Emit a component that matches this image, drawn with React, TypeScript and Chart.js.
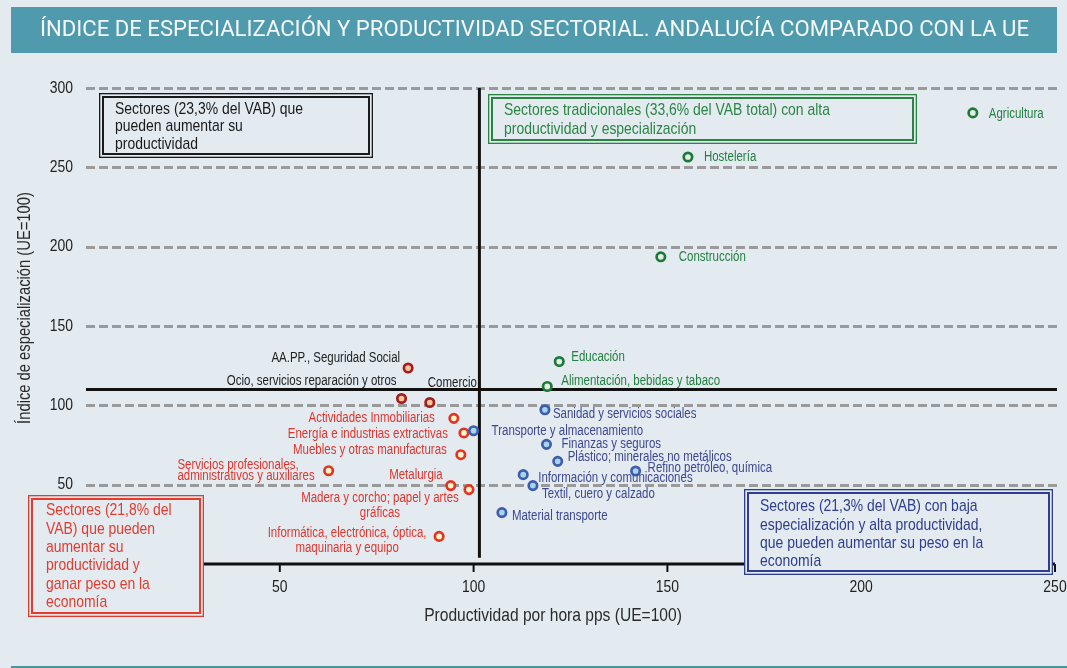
import React, { useEffect, useRef } from 'react';
import { Chart, registerables } from 'chart.js';
Chart.register(...registerables);

// ---------- DATA ----------
const sectors = [
  'Agricultura', 'Hostelería', 'Construcción', 'Educación', 'Alimentación, bebidas y tabaco',
  'Sanidad y servicios sociales', 'Transporte y almacenamiento', 'Finanzas y seguros',
  'Plástico; minerales no metálicos', 'Refino petróleo, química', 'Información y comunicaciones',
  'Textil, cuero y calzado', 'Material transporte',
  'AA.PP., Seguridad Social', 'Ocio, servicios reparación y otros', 'Comercio',
  'Actividades Inmobiliarias', 'Energía e industrias extractivas', 'Muebles y otras manufacturas',
  'Servicios profesionales,\nadministrativos y auxiliares', 'Metalurgia',
  'Madera y corcho; papel y artes\ngráficas', 'Informática, electrónica, óptica,\nmaquinaria y equipo',
];
const productivity = [
  228.8, 155.3, 148.3, 122.1, 119.0,
  118.4, 100.0, 118.8, 121.7, 141.8, 112.8, 115.3, 107.3,
  83.1, 81.4, 88.7,
  94.9, 97.5, 96.7, 62.6, 94.1, 98.8, 91.1,
];
const specialization = [
  284.3, 256.5, 193.6, 127.6, 111.9,
  97.2, 84.0, 75.4, 64.7, 58.6, 56.3, 49.4, 32.4,
  123.5, 104.3, 101.8,
  91.8, 82.6, 68.9, 58.8, 49.4, 46.9, 17.4,
];
const groups = [
  'g', 'g', 'g', 'g', 'g',
  'b', 'b', 'b', 'b', 'b', 'b', 'b', 'b',
  'd', 'd', 'd',
  'r', 'r', 'r', 'r', 'r', 'r', 'r',
];
const xTicks = [0, 50, 100, 150, 200, 250];
const yTicks = [50, 100, 150, 200, 250, 300];
const refProductivity = 101.5;
const refSpecialization = 110;

const titleText = 'ÍNDICE DE ESPECIALIZACIÓN Y PRODUCTIVIDAD SECTORIAL. ANDALUCÍA COMPARADO CON LA UE';
const xTitle = 'Productividad por hora pps (UE=100)';
const yTitle = 'Índice de especialización (UE=100)';
const boxTexts = [
  ['Sectores (23,3% del VAB) que', 'pueden aumentar su', 'productividad'],
  ['Sectores tradicionales (33,6% del VAB total) con alta', 'productividad y especialización'],
  ['Sectores (21,8% del', 'VAB) que pueden', 'aumentar su', 'productividad y', 'ganar peso en la', 'economía'],
  ['Sectores (21,3% del VAB) con baja', 'especialización y alta productividad,', 'que pueden aumentar su peso en la', 'economía'],
];

// ---------- STYLE / LAYOUT ----------
const BG = '#e3ebf1';
const FONT = '"Liberation Sans", Arial, sans-serif';
const SX = 0.82;
const groupStyle: Record<string, { border: string; fill: string; text: string }> = {
  g: { border: '#1c7a38', fill: '#e3ece8', text: '#23803f' },
  b: { border: '#3f5cad', fill: '#a6d5f0', text: '#3e4791' },
  r: { border: '#e63320', fill: '#fff4cc', text: '#e3342c' },
  d: { border: '#a21f1f', fill: '#f7c79c', text: '#222222' },
};
// [dx, dy, align, lineHeight]
const labelLayout: [number, number, string, number][] = [
  [16, 1, 'left', 15], [16, 0, 'left', 15], [18, 0, 'left', 15], [12, -4, 'left', 15], [14, -5, 'left', 15],
  [8, 4, 'left', 15], [18, 0, 'left', 15], [15, 0, 'left', 15], [10, -4, 'left', 15], [12, -3, 'left', 15],
  [15, 3, 'left', 15], [9, 9, 'left', 15], [10, 4, 'left', 15],
  [-8, -10, 'right', 15], [-5, -17, 'right', 15], [-2, -19, 'left', 15],
  [-19, 0, 'right', 15], [-16, 1, 'right', 15], [-14, -5, 'right', 15], [-14, -6, 'block', 11.5],
  [-8, -10, 'right', 15], [-89, 9, 'center', 15], [-92, -3, 'center', 15],
];
// [x0, y0, x1, y1, textX, firstLineY, lineHeight, color]
const boxLayout: [number, number, number, number, number, number, number, string][] = [
  [99, 93, 373, 158, 115, 109, 17.5, '#1a1a1a'],
  [488, 94, 917, 144, 504, 110, 19.5, '#2a8543'],
  [28, 495, 204, 617, 46, 510.5, 18.4, '#e53a2c'],
  [744, 489, 1053, 575, 760, 506.5, 18.4, '#2e3d8f'],
];

function drawText(ctx: CanvasRenderingContext2D, s: string, x: number, y: number, size: number,
  color: string, align: string, sx = SX, family = FONT) {
  ctx.save();
  ctx.font = `${size}px ${family}`;
  ctx.fillStyle = color;
  ctx.textBaseline = 'middle';
  ctx.textAlign = 'left';
  const w = ctx.measureText(s).width * sx;
  const left = align === 'left' ? x : align === 'right' ? x - w : x - w / 2;
  ctx.translate(left, y);
  ctx.scale(sx, 1);
  ctx.fillText(s, 0, 0);
  ctx.restore();
}

function textWidth(ctx: CanvasRenderingContext2D, s: string, size: number, sx = SX) {
  ctx.save();
  ctx.font = `${size}px ${FONT}`;
  const w = ctx.measureText(s).width * sx;
  ctx.restore();
  return w;
}

const decorPlugin = {
  id: 'decor',
  beforeDraw(chart: any) {
    const ctx: CanvasRenderingContext2D = chart.ctx;
    ctx.save();
    ctx.fillStyle = BG;
    ctx.fillRect(0, 0, chart.width, chart.height);
    // title bar
    ctx.fillStyle = '#509aae';
    ctx.fillRect(11, 7, 1046, 46);
    ctx.font = `22px Roboto, "Liberation Sans", sans-serif`;
    const tw = ctx.measureText(titleText).width;
    drawText(ctx, titleText, 40, 30.5, 22, '#f5f8f9', 'left', 989 / tw, 'Roboto, "Liberation Sans", sans-serif');
    // bottom line
    ctx.fillStyle = '#4d959c';
    ctx.fillRect(11, 666, 1056, 2);
    ctx.restore();
  },
  beforeDatasetsDraw(chart: any) {
    const ctx: CanvasRenderingContext2D = chart.ctx;
    const xs = chart.scales.x;
    const ys = chart.scales.y;
    const area = chart.chartArea;
    ctx.save();
    // dashed grid
    ctx.strokeStyle = '#9a9a9a';
    ctx.lineWidth = 3;
    ctx.setLineDash([9, 4]);
    yTicks.forEach((v) => {
      const py = Math.round(ys.getPixelForValue(v)) + 0.5;
      ctx.beginPath();
      ctx.moveTo(area.left, py);
      ctx.lineTo(area.right + 2, py);
      ctx.stroke();
    });
    ctx.setLineDash([]);
    // reference lines
    ctx.strokeStyle = '#111';
    ctx.lineWidth = 3;
    const ry = ys.getPixelForValue(refSpecialization);
    ctx.beginPath();
    ctx.moveTo(area.left, ry);
    ctx.lineTo(area.right + 2, ry);
    ctx.stroke();
    const rx = xs.getPixelForValue(refProductivity);
    ctx.beginPath();
    ctx.moveTo(rx, ys.getPixelForValue(300));
    ctx.lineTo(rx, ys.getPixelForValue(4));
    ctx.stroke();
    // x axis
    const ay = ys.getPixelForValue(0);
    ctx.beginPath();
    ctx.moveTo(area.left, ay);
    ctx.lineTo(area.right, ay);
    ctx.stroke();
    ctx.lineWidth = 2;
    xTicks.forEach((v) => {
      const px = xs.getPixelForValue(v);
      ctx.beginPath();
      ctx.moveTo(px, ay);
      ctx.lineTo(px, ay + 8);
      ctx.stroke();
      drawText(ctx, String(v), px, ay + 23, 17, '#222', 'center');
    });
    [0, ...yTicks].forEach((v) => {
      drawText(ctx, String(v), 73, ys.getPixelForValue(v), 17, '#222', 'right');
    });
    // axis titles
    drawText(ctx, xTitle, 553, 616, 19, '#2a2a2a', 'center');
    ctx.save();
    ctx.translate(25, 308);
    ctx.rotate(-Math.PI / 2);
    drawText(ctx, yTitle, 0, 0, 18, '#2a2a2a', 'center');
    ctx.restore();
    ctx.restore();
  },
  afterDatasetsDraw(chart: any) {
    const ctx: CanvasRenderingContext2D = chart.ctx;
    const xs = chart.scales.x;
    const ys = chart.scales.y;
    // point labels
    sectors.forEach((name, i) => {
      const [dx, dy, align, lh] = labelLayout[i];
      const px = xs.getPixelForValue(productivity[i]);
      const py = ys.getPixelForValue(specialization[i]);
      const color = groupStyle[groups[i]].text;
      const lines = name.split('\n');
      if (align === 'block') {
        const maxW = Math.max(...lines.map((l) => textWidth(ctx, l, 14)));
        lines.forEach((l, k) => drawText(ctx, l, px + dx - maxW, py + dy + k * lh, 14, color, 'left'));
      } else {
        lines.forEach((l, k) => drawText(ctx, l, px + dx, py + dy + k * lh, 14, color, align));
      }
    });
    // annotation boxes
    boxLayout.forEach(([x0, y0, x1, y1, tx, ty, lh, color], i) => {
      ctx.save();
      ctx.fillStyle = BG;
      ctx.fillRect(x0, y0, x1 - x0, y1 - y0);
      ctx.strokeStyle = color;
      ctx.lineWidth = 1.3;
      ctx.strokeRect(x0 + 0.65, y0 + 0.65, x1 - x0 - 1.3, y1 - y0 - 1.3);
      ctx.lineWidth = 2;
      ctx.strokeRect(x0 + 4, y0 + 4, x1 - x0 - 8, y1 - y0 - 8);
      ctx.restore();
      boxTexts[i].forEach((l, k) => drawText(ctx, l, tx, ty + k * lh, 17, color, 'left'));
    });
  },
};

export default function App() {
  const ref = useRef<HTMLCanvasElement | null>(null);
  useEffect(() => {
    if (!ref.current) return;
    const keys = ['g', 'b', 'd', 'r'];
    const datasets = keys.map((k) => {
      const idx = groups.map((g, i) => (g === k ? i : -1)).filter((i) => i >= 0);
      return {
        label: k,
        data: idx.map((i) => ({ x: productivity[i], y: specialization[i] })),
        pointRadius: 4.2,
        pointHoverRadius: 4.2,
        pointBorderWidth: 2.7,
        borderColor: groupStyle[k].border,
        backgroundColor: groupStyle[k].fill,
        pointBorderColor: groupStyle[k].border,
        pointBackgroundColor: groupStyle[k].fill,
        showLine: false,
        clip: false as any,
      };
    });
    const chart = new Chart(ref.current, {
      type: 'scatter',
      data: { datasets },
      options: {
        responsive: false,
        maintainAspectRatio: false,
        animation: false,
        layout: { padding: { left: 86, right: 12, top: 88, bottom: 104 } },
        scales: {
          x: { type: 'linear', min: 0, max: 250, display: false },
          y: { type: 'linear', min: 0, max: 300, display: false },
        },
        plugins: { legend: { display: false }, tooltip: { enabled: false } },
        events: [],
      },
      plugins: [decorPlugin],
    });
    return () => chart.destroy();
  }, []);
  return (
    <div style={{ position: 'absolute', left: 0, top: 0, width: 1067, height: 668, background: BG }}>
      <canvas ref={ref} width={1067} height={668} style={{ display: 'block', width: 1067, height: 668 }} />
    </div>
  );
}
